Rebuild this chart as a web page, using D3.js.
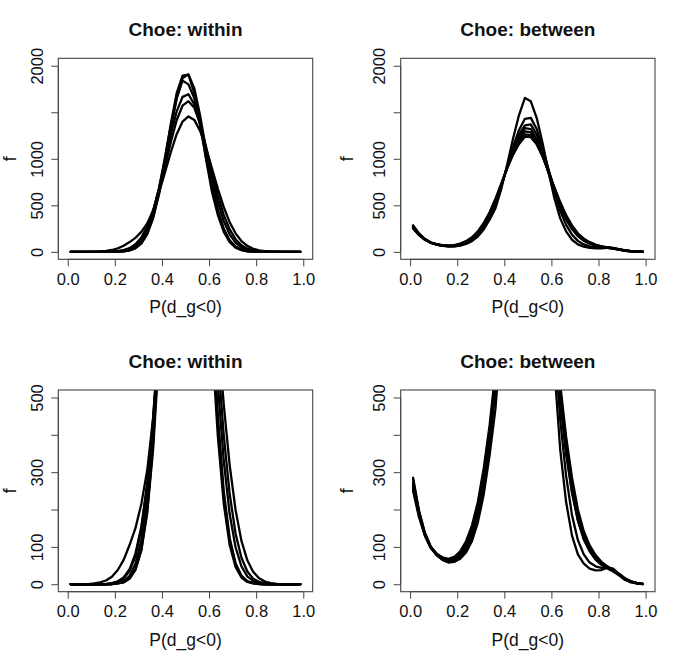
<!DOCTYPE html>
<html>
<head>
<meta charset="utf-8">
<script src="https://cdn.jsdelivr.net/npm/d3@7"></script>
<style>
  html, body { margin: 0; padding: 0; background: #fff; }
  svg text { font-family: "Liberation Sans", Arial, Helvetica, sans-serif; fill: #111; }
</style>
</head>
<body>
<svg id="chart" width="685" height="664"></svg>
<script>
// ---------------- data ----------------
const xGrid = [0.0125, 0.0375, 0.0625, 0.0875, 0.1125, 0.1375, 0.1625, 0.1875, 0.2125, 0.2375,
               0.2625, 0.2875, 0.3125, 0.3375, 0.3625, 0.3875, 0.4125, 0.4375, 0.4625, 0.4875,
               0.5125, 0.5375, 0.5625, 0.5875, 0.6125, 0.6375, 0.6625, 0.6875, 0.7125, 0.7375,
               0.7625, 0.7875, 0.8125, 0.8375, 0.8625, 0.8875, 0.9125, 0.9375, 0.9625, 0.9875];

const within1 = [0,0,0,0,0,0,0,0,2,5, 15,39,92,196,375,644,993,1373,1705,1893, 1904,1705,1373,993,644,395,215,105,46,18, 6,2,0,0,0,0,0,0,0,0];
const within2 = [0,0,0,0,0,0,0,0,2,5, 15,39,91,191,361,616,948,1317,1651,1867, 1906,1756,1459,1095,741,452,249,124,56,23, 8,3,1,0,0,0,0,0,0,0];
const within3 = [0,0,0,0,0,0,0,1,3,8, 22,54,118,234,420,684,1012,1356,1649,1840, 1800,1649,1356,1012,684,420,234,118,54,22, 8,3,1,0,0,0,0,0,0,0];
const within4 = [0,0,0,0,0,0,0,2,6,15, 35,75,147,266,445,683,966,1258,1509,1666, 1694,1585,1366,1085,792,533,330,188,99,48, 21,9,3,1,0,0,0,0,0,0];
const within5 = [0,0,0,0,0,0,1,3,8,18, 40,82,154,269,435,655,912,1179,1414,1571, 1619,1548,1372,1127,859,607,398,242,136,71, 34,15,6,2,1,0,0,0,0,0];
const within6 = [0,0,0,0,2,5,10,20,38,65, 105,150,215,305,444,635,851,1071,1264,1400, 1455,1418,1297,1113,896,677,480,319,199,116, 64,33,16,7,3,1,0,0,0,0];

const between1 = [250,180,130,97,78,66,60,60,68,85, 115,165,240,345,470,680,940,1220,1470,1654, 1618,1440,1170,860,580,360,220,130,80,55, 42,37,38,44,42,25,12,5,2,0];
const between2 = [285,198,138,100,78,65,58,60,70,90, 125,180,262,375,525,710,920,1130,1310,1430, 1440,1320,1120,890,660,440,290,185,118,80, 58,48,44,46,40,24,12,6,2,0];
const between3 = [265,188,133,98,79,67,62,64,75,96, 132,188,270,385,535,715,910,1100,1260,1360, 1370,1260,1090,880,680,500,355,248,172,122, 90,68,54,44,36,25,14,7,3,1];
const between4 = [270,190,135,100,80,68,63,66,78,100, 138,195,280,395,530,720,905,1080,1225,1330, 1320,1210,1045,850,660,490,350,245,170,120, 88,66,52,42,34,24,14,7,3,1];
const between5 = [255,185,132,98,80,69,65,68,80,104, 142,200,285,400,550,725,905,1075,1210,1295, 1285,1190,1040,860,675,505,365,258,180,128, 94,70,55,45,37,26,15,7,3,1];
const between6 = [280,195,137,101,81,70,66,70,84,110, 150,210,298,412,560,730,905,1060,1185,1262, 1255,1170,1030,860,685,520,380,272,192,136, 100,75,58,47,38,27,15,8,3,1];
const between7 = [260,190,135,100,82,72,68,73,88,115, 157,220,310,425,570,735,900,1045,1160,1238, 1232,1155,1025,865,695,535,395,285,200,142, 104,78,60,48,39,28,16,8,3,1];

const withinSeries = [within1, within2, within3, within4, within5, within6];
const betweenSeries = [between1, between2, between3, between4, between5, between6, between7];

const xTicks = [0, 0.2, 0.4, 0.6, 0.8, 1.0];
const xTickLabels = ["0.0", "0.2", "0.4", "0.6", "0.8", "1.0"];
const yTicksFull = [0, 500, 1000, 1500, 2000];
const yTickLabelsFull = ["0", "500", "1000", "", "2000"];
const yTicksZoom = [0, 100, 200, 300, 400, 500];
const yTickLabelsZoom = ["0", "100", "", "300", "", "500"];
const yLimFull = [0, 2000];
const yLimZoom = [0, 500];
const xLim = [0, 1];

const titles = ["Choe: within", "Choe: between", "Choe: within", "Choe: between"];
const xLabel = "P(d_g<0)";
const yLabel = "f";

// ---------------- layout ----------------
const cols = [[58.3, 312.7], [400.7, 655]];
const rows = [[58.3, 259.3], [390, 591.7]];
const yLabelX = [16, 352.7];

const panels = [
  { title: titles[0], series: withinSeries,  ylim: yLimFull, ticks: yTicksFull, labels: yTickLabelsFull, c: 0, r: 0 },
  { title: titles[1], series: betweenSeries, ylim: yLimFull, ticks: yTicksFull, labels: yTickLabelsFull, c: 1, r: 0 },
  { title: titles[2], series: withinSeries,  ylim: yLimZoom, ticks: yTicksZoom, labels: yTickLabelsZoom, c: 0, r: 1 },
  { title: titles[3], series: betweenSeries, ylim: yLimZoom, ticks: yTicksZoom, labels: yTickLabelsZoom, c: 1, r: 1 }
];

const svg = d3.select("#chart");
const ext = (lim) => { const d = (lim[1] - lim[0]) * 0.04; return [lim[0] - d, lim[1] + d]; };

panels.forEach((p, i) => {
  const [x0, x1] = cols[p.c];
  const [y0, y1] = rows[p.r];
  const x = d3.scaleLinear().domain(ext(xLim)).range([x0, x1]);
  const y = d3.scaleLinear().domain(ext(p.ylim)).range([y1, y0]);

  const clipId = "clip" + i;
  svg.append("clipPath").attr("id", clipId)
    .append("rect").attr("x", x0).attr("y", y0).attr("width", x1 - x0).attr("height", y1 - y0);

  const g = svg.append("g");

  // curves
  const line = d3.line().x((d, k) => x(xGrid[k])).y(d => y(d));
  g.append("g").attr("clip-path", `url(#${clipId})`)
    .selectAll("path").data(p.series).join("path")
    .attr("d", s => line(s))
    .attr("fill", "none").attr("stroke", "#000")
    .attr("stroke-width", 2.3).attr("stroke-linejoin", "round").attr("stroke-linecap", "round");

  // box
  g.append("rect").attr("x", x0).attr("y", y0).attr("width", x1 - x0).attr("height", y1 - y0)
    .attr("fill", "none").attr("stroke", "#444").attr("stroke-width", 1.1);

  // x axis
  const xAxis = d3.axisBottom(x).tickValues(xTicks).tickFormat((d, k) => xTickLabels[k]).tickSize(7).tickPadding(6);
  const gx = g.append("g").attr("transform", `translate(0,${y1})`).call(xAxis);
  gx.select(".domain").attr("stroke", "#444").attr("d", `M${x(xTicks[0])},0H${x(xTicks[xTicks.length-1])}`);
  gx.selectAll(".tick line").attr("stroke", "#444");
  gx.selectAll(".tick text").attr("font-size", 16.5).attr("fill", "#111")
    .attr("font-family", "'Liberation Sans', Arial, sans-serif")
    .attr("dy", null).attr("y", 25.7).attr("dominant-baseline", "auto");

  // y axis
  const yAxis = d3.axisLeft(y).tickValues(p.ticks).tickFormat((d, k) => p.labels[k]).tickSize(7);
  const gy = g.append("g").attr("transform", `translate(${x0},0)`).call(yAxis);
  gy.select(".domain").attr("stroke", "#444").attr("d", `M0,${y(p.ticks[0])}V${y(p.ticks[p.ticks.length-1])}`);
  gy.selectAll(".tick line").attr("stroke", "#444");
  gy.selectAll(".tick text")
    .attr("font-size", 16.5).attr("fill", "#111")
    .attr("font-family", "'Liberation Sans', Arial, sans-serif")
    .attr("x", null).attr("dy", null)
    .attr("text-anchor", "middle")
    .attr("transform", "translate(-15.6,0) rotate(-90)");

  // title
  g.append("text").attr("x", (x0 + x1) / 2).attr("y", y0 - 22.3)
    .attr("text-anchor", "middle").attr("font-size", 19).attr("font-weight", "bold").text(p.title);

  // x label
  g.append("text").attr("x", (x0 + x1) / 2).attr("y", y1 + 54)
    .attr("text-anchor", "middle").attr("font-size", 17.5).text(xLabel);

  // y label
  g.append("text").attr("transform", `translate(${yLabelX[p.c]},${(y0 + y1) / 2}) rotate(-90)`)
    .attr("text-anchor", "middle").attr("font-size", 17.5).text(yLabel);
});
</script>
</body>
</html>
